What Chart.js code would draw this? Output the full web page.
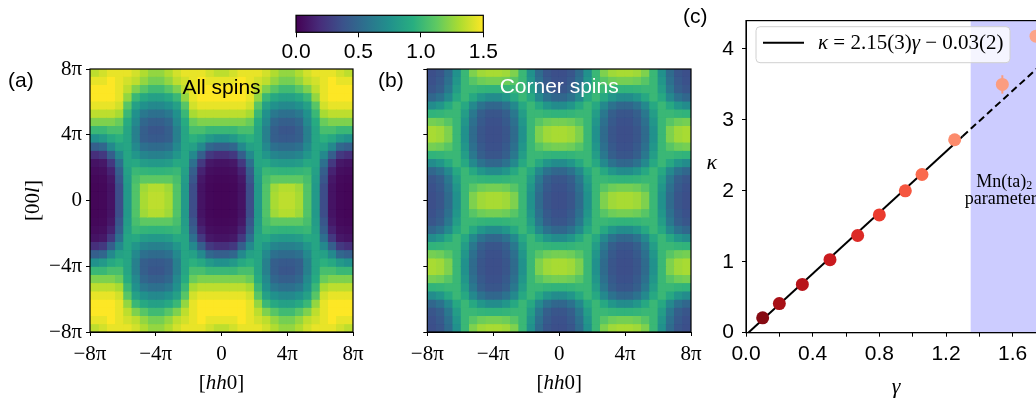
<!DOCTYPE html>
<html>
<head>
<meta charset="utf-8">
<script src="https://cdn.jsdelivr.net/npm/chart.js@4.4.0/dist/chart.umd.min.js"></script>
<style>
  html, body { margin: 0; padding: 0; background: #fff; overflow: hidden; }
  #page { position: relative; width: 1036px; height: 403px; overflow: hidden; }
  canvas { position: absolute; top: 0; }
</style>
</head>
<body>
<div id="page">
  <canvas id="allSpins" width="370" height="403" style="left:0"></canvas>
  <canvas id="cornerSpins" width="340" height="403" style="left:370px"></canvas>
  <canvas id="kappaChart" width="420" height="403" style="left:680px"></canvas>
  <canvas id="colorbar" width="240" height="70" style="left:270px"></canvas>
</div>
<script>
// ---- data ----
// heat maps: cell centres of one quadrant (units of pi), rows from top (l = 7.75pi) to bottom
const hhCentres = [0.25, 0.75, 1.25, 1.75, 2.25, 2.75, 3.25, 3.75, 4.25, 4.75, 5.25, 5.75, 6.25, 6.75, 7.25, 7.75];
const llCentres = [7.75, 7.25, 6.75, 6.25, 5.75, 5.25, 4.75, 4.25, 3.75, 3.25, 2.75, 2.25, 1.75, 1.25, 0.75, 0.25];

// (a) all spins, quadrant hh>0, l>0 (the map is mirrored in hh and l)
const allSpinsQuadrant = [
  [1.35,1.40,1.45,1.45,1.45,1.40,1.32,1.25,1.25,1.32,1.40,1.45,1.45,1.45,1.40,1.35],
  [1.45,1.45,1.50,1.45,1.40,1.35,1.25,1.18,1.18,1.25,1.35,1.40,1.45,1.50,1.45,1.45],
  [1.50,1.50,1.50,1.45,1.35,1.20,1.10,1.02,1.02,1.10,1.20,1.35,1.45,1.50,1.50,1.50],
  [1.50,1.50,1.50,1.45,1.25,1.00,0.90,0.85,0.85,0.90,1.00,1.25,1.45,1.50,1.50,1.50],
  [1.45,1.45,1.45,1.40,1.10,0.85,0.75,0.70,0.70,0.75,0.85,1.10,1.40,1.45,1.45,1.45],
  [1.35,1.35,1.35,1.30,1.00,0.75,0.60,0.55,0.55,0.60,0.75,1.00,1.30,1.35,1.35,1.35],
  [1.20,1.20,1.20,1.15,0.92,0.70,0.50,0.45,0.45,0.50,0.70,0.92,1.15,1.20,1.20,1.20],
  [1.00,1.00,1.05,1.05,0.88,0.65,0.45,0.40,0.40,0.45,0.65,0.88,1.05,1.05,1.00,1.00],
  [0.75,0.80,0.90,0.95,0.88,0.65,0.45,0.42,0.42,0.45,0.65,0.88,0.95,0.90,0.80,0.75],
  [0.45,0.50,0.70,0.85,0.88,0.70,0.55,0.52,0.52,0.55,0.70,0.88,0.85,0.70,0.50,0.45],
  [0.20,0.25,0.45,0.70,0.88,0.78,0.68,0.65,0.65,0.68,0.78,0.88,0.70,0.45,0.25,0.20],
  [0.08,0.10,0.25,0.55,0.88,0.90,0.82,0.80,0.80,0.82,0.90,0.88,0.55,0.25,0.10,0.08],
  [0.05,0.06,0.15,0.45,0.85,1.00,0.98,0.97,0.97,0.98,1.00,0.85,0.45,0.15,0.06,0.05],
  [0.03,0.04,0.10,0.40,0.82,1.05,1.12,1.12,1.12,1.12,1.05,0.82,0.40,0.10,0.04,0.03],
  [0.02,0.03,0.08,0.35,0.80,1.08,1.28,1.33,1.33,1.28,1.08,0.80,0.35,0.08,0.03,0.02],
  [0.02,0.03,0.08,0.35,0.80,1.08,1.30,1.35,1.35,1.30,1.08,0.80,0.35,0.08,0.03,0.02]
];

// (b) corner spins, same quadrant
const cornerSpinsQuadrant = [
  [0.36,0.40,0.52,0.75,1.00,1.20,1.28,1.30,1.30,1.28,1.20,1.00,0.75,0.52,0.40,0.36],
  [0.37,0.42,0.55,0.78,1.00,1.10,1.16,1.18,1.18,1.16,1.10,1.00,0.78,0.55,0.42,0.37],
  [0.40,0.45,0.60,0.83,1.00,1.00,0.98,0.97,0.97,0.98,1.00,1.00,0.83,0.60,0.45,0.40],
  [0.50,0.56,0.70,0.90,1.00,0.90,0.78,0.72,0.72,0.78,0.90,1.00,0.90,0.70,0.56,0.50],
  [0.72,0.78,0.90,1.00,0.90,0.70,0.56,0.50,0.50,0.56,0.70,0.90,1.00,0.90,0.78,0.72],
  [0.97,0.98,1.00,1.00,0.83,0.60,0.45,0.40,0.40,0.45,0.60,0.83,1.00,1.00,0.98,0.97],
  [1.18,1.16,1.10,1.00,0.78,0.55,0.42,0.37,0.37,0.42,0.55,0.78,1.00,1.10,1.16,1.18],
  [1.30,1.28,1.20,1.00,0.75,0.52,0.40,0.36,0.36,0.40,0.52,0.75,1.00,1.20,1.28,1.30],
  [1.30,1.28,1.20,1.00,0.75,0.52,0.40,0.36,0.36,0.40,0.52,0.75,1.00,1.20,1.28,1.30],
  [1.18,1.16,1.10,1.00,0.78,0.55,0.42,0.37,0.37,0.42,0.55,0.78,1.00,1.10,1.16,1.18],
  [0.97,0.98,1.00,1.00,0.83,0.60,0.45,0.40,0.40,0.45,0.60,0.83,1.00,1.00,0.98,0.97],
  [0.72,0.78,0.90,1.00,0.90,0.70,0.56,0.50,0.50,0.56,0.70,0.90,1.00,0.90,0.78,0.72],
  [0.50,0.56,0.70,0.90,1.00,0.90,0.78,0.72,0.72,0.78,0.90,1.00,0.90,0.70,0.56,0.50],
  [0.40,0.45,0.60,0.83,1.00,1.00,0.98,0.97,0.97,0.98,1.00,1.00,0.83,0.60,0.45,0.40],
  [0.37,0.42,0.55,0.78,1.00,1.10,1.16,1.18,1.18,1.16,1.10,1.00,0.78,0.55,0.42,0.37],
  [0.36,0.40,0.52,0.75,1.00,1.20,1.28,1.30,1.30,1.28,1.20,1.00,0.75,0.52,0.40,0.36]
];

const colorbarMax = 1.5;

// (c) kappa vs gamma
const gammaValues = [0.10, 0.20, 0.338, 0.504, 0.67, 0.80, 0.956, 1.056, 1.252, 1.538, 1.74];
const kappaValues = [0.21, 0.41, 0.68, 1.03, 1.37, 1.66, 2.00, 2.23, 2.72, 3.50, 4.18];
const kappaErrors = [0, 0, 0, 0, 0, 0, 0, 0, 0, 0.13, 0];
const fitGamma = [0, 1.30, 1.80];
const fitKappa = [-0.03, 2.77, 3.84];
const shadeFrom = 1.348;

const pointColours = ['#860a12', '#a81117', '#b8141a', '#ca1b1f', '#dc2a26', '#ea3b2e', '#f5563f', '#fa6b4e', '#fc8b6c', '#fb9d80', '#fca488'];

// ---- helpers ----
const viridisStops = [[68,1,84],[71,44,122],[59,82,139],[44,114,142],[33,145,140],[40,174,128],[94,201,98],[173,220,48],[253,231,37]];
function viridis(t) {
  t = Math.max(0, Math.min(1, t)) * (viridisStops.length - 1);
  const i = Math.min(viridisStops.length - 2, Math.floor(t));
  const f = t - i, a = viridisStops[i], b = viridisStops[i + 1];
  return 'rgb(' + a.map((c, k) => Math.round(c + (b[k] - c) * f)).join(',') + ')';
}

function piLabel(v) {
  if (v === 0) return '0';
  return (v < 0 ? '\u2212' : '') + Math.abs(v) + '\u03c0';
}

// draw text made of pieces in different fonts: [text, font, dy]
function drawRich(ctx, parts, x, y, align, rot, colour) {
  ctx.save();
  ctx.translate(x, y);
  if (rot) ctx.rotate(rot);
  ctx.fillStyle = colour || '#000';
  ctx.textBaseline = 'middle';
  ctx.textAlign = 'left';
  let w = 0;
  parts.forEach(p => { ctx.font = p[1]; w += ctx.measureText(p[0]).width; });
  let cx = align === 'center' ? -w / 2 : align === 'right' ? -w : 0;
  parts.forEach(p => {
    ctx.font = p[1];
    ctx.fillText(p[0], cx, p[2] || 0);
    cx += ctx.measureText(p[0]).width;
  });
  ctx.restore();
}

const SERIF = '"Liberation Serif", "DejaVu Serif", serif';
const SANS = '"Liberation Sans", Arial, sans-serif';

function buildCells(quadrant) {
  const cells = [], colours = [];
  [-1, 1].forEach(sy => {
    [-1, 1].forEach(sx => {
      quadrant.forEach((row, j) => {
        row.forEach((v, i) => {
          const yc = sy * llCentres[j];
          cells.push({ x: sx * hhCentres[i], y: [yc - 0.25, yc + 0.25] });
          colours.push(viridis(v / colorbarMax));
        });
      });
    });
  });
  return { cells, colours };
}

function piAxis(showLabels, fitSize, isX) {
  return {
    type: 'linear',
    min: -8,
    max: 8,
    offset: false,
    ticks: {
      stepSize: 4,
      display: showLabels,
      autoSkip: false,
      maxRotation: 0,
      color: '#000',
      padding: isX ? 6 : 4,
      font: { family: SERIF, size: 21 },
      callback: v => piLabel(v)
    },
    grid: { drawOnChartArea: false, drawTicks: true, tickLength: 4, color: '#000', offset: false },
    border: { display: true, color: '#000', width: 1 },
    afterFit: s => { if (isX) s.height = fitSize; else s.width = fitSize; }
  };
}

function heatmap(id, quadrant, yWidth, rightPad, texts) {
  const { cells, colours } = buildCells(quadrant);
  return new Chart(document.getElementById(id), {
    type: 'bar',
    data: {
      datasets: [{
        data: cells,
        backgroundColor: colours,
        borderColor: colours,
        borderWidth: 0.01,
        borderSkipped: false,
        inflateAmount: 0.5,
        base: -100, // keeps Chart.js from trimming cells that touch l = 0
        categoryPercentage: 1,
        barPercentage: 1
      }]
    },
    options: {
      responsive: false,
      animation: false,
      events: [],
      layout: { padding: { top: 69, right: rightPad, left: 0, bottom: 0 } },
      plugins: { legend: { display: false }, tooltip: { enabled: false } },
      scales: {
        x: piAxis(true, 71, true),
        y: piAxis(yWidth > 70, yWidth, false)
      }
    },
    plugins: [{
      id: 'frameAndText',
      afterDraw(chart) {
        const { ctx, chartArea: a } = chart;
        ctx.save();
        ctx.strokeStyle = '#000';
        ctx.lineWidth = 1.2;
        ctx.strokeRect(a.left, a.top, a.right - a.left, a.bottom - a.top);
        ctx.restore();
        texts(ctx, a);
      }
    }]
  });
}

// ---- (a) ----
heatmap('allSpins', allSpinsQuadrant, 90, 17, (ctx, a) => {
  const cx = (a.left + a.right) / 2;
  drawRich(ctx, [['(a)', '21px ' + SANS]], 8, 81, 'left');
  drawRich(ctx, [['All spins', '21px ' + SANS]], cx, 88, 'center');
  drawRich(ctx, [['[00', '21px ' + SERIF], ['l', 'italic 21px ' + SERIF], [']', '21px ' + SERIF]],
    33, (a.top + a.bottom) / 2, 'center', -Math.PI / 2);
  drawRich(ctx, [['[', '21px ' + SERIF], ['hh', 'italic 21px ' + SERIF], ['0]', '21px ' + SERIF]], cx, 383, 'center');
});

// ---- (b) ----
heatmap('cornerSpins', cornerSpinsQuadrant, 57.3, 19, (ctx, a) => {
  const cx = (a.left + a.right) / 2;
  drawRich(ctx, [['(b)', '21px ' + SANS]], 8, 81, 'left');
  drawRich(ctx, [['Corner spins', '21px ' + SANS]], cx, 87, 'center', 0, '#fff');
  drawRich(ctx, [['[', '21px ' + SERIF], ['hh', 'italic 21px ' + SERIF], ['0]', '21px ' + SERIF]], cx, 383, 'center');
});

// ---- colour bar ----
new Chart(document.getElementById('colorbar'), {
  type: 'scatter',
  data: { datasets: [] },
  options: {
    responsive: false,
    animation: false,
    events: [],
    layout: { padding: { top: 15.3, left: 26, right: 26.7, bottom: 0 } },
    plugins: { legend: { display: false }, tooltip: { enabled: false } },
    scales: {
      x: {
        type: 'linear',
        min: 0,
        max: colorbarMax,
        ticks: {
          stepSize: 0.5, autoSkip: false, maxRotation: 0, color: '#000', padding: 2,
          font: { family: SANS, size: 21 },
          callback: v => v.toFixed(1)
        },
        grid: { drawOnChartArea: false, tickLength: 5, color: '#000' },
        border: { display: false },
        afterFit: s => { s.height = 37.7; }
      },
      y: { display: false, min: 0, max: 1 }
    }
  },
  plugins: [{
    id: 'gradient',
    beforeDatasetsDraw(chart) {
      const { ctx, chartArea: a } = chart;
      const g = ctx.createLinearGradient(a.left, 0, a.right, 0);
      viridisStops.forEach((c, k) => g.addColorStop(k / (viridisStops.length - 1), 'rgb(' + c.join(',') + ')'));
      ctx.save();
      ctx.fillStyle = g;
      ctx.fillRect(a.left, a.top, a.right - a.left, a.bottom - a.top);
      ctx.strokeStyle = '#000';
      ctx.lineWidth = 1.2;
      ctx.strokeRect(a.left, a.top, a.right - a.left, a.bottom - a.top);
      ctx.restore();
    }
  }]
});

// ---- (c) ----
new Chart(document.getElementById('kappaChart'), {
  type: 'scatter',
  data: {
    datasets: [
      {
        label: 'simulations',
        data: gammaValues.map((g, i) => ({ x: g, y: kappaValues[i] })),
        pointBackgroundColor: pointColours,
        pointBorderWidth: 0,
        pointRadius: 6.5,
        order: 1
      },
      {
        label: 'fit',
        data: fitGamma.map((g, i) => ({ x: g, y: fitKappa[i] })),
        showLine: true,
        borderColor: '#000',
        borderWidth: 2,
        pointRadius: 0,
        segment: { borderDash: ctx => ctx.p0DataIndex >= 1 ? [7, 4] : undefined },
        order: 2
      }
    ]
  },
  options: {
    responsive: false,
    animation: false,
    events: [],
    layout: { padding: { top: 16, right: 54, left: 0, bottom: 0 } },
    plugins: { legend: { display: false }, tooltip: { enabled: false } },
    scales: {
      x: {
        type: 'linear',
        min: 0,
        max: 1.8,
        ticks: {
          stepSize: 0.2, autoSkip: false, maxRotation: 0, color: '#000', padding: 5,
          font: { family: SANS, size: 21 },
          callback: v => (Math.round(v * 10) % 4 === 0 ? v.toFixed(1) : '')
        },
        grid: { drawOnChartArea: false, tickLength: 4, color: '#000' },
        border: { display: true, color: '#000', width: 1 },
        afterFit: s => { s.height = 70.3; }
      },
      y: {
        type: 'linear',
        min: 0,
        max: 4.4,
        ticks: {
          stepSize: 1, includeBounds: false, autoSkip: false, color: '#000', padding: 8,
          font: { family: SANS, size: 21 },
          callback: v => String(v)
        },
        grid: { drawOnChartArea: false, tickLength: 4, color: '#000' },
        border: { display: true, color: '#000', width: 1 },
        afterFit: s => { s.width = 66; }
      }
    }
  },
  plugins: [{
    id: 'shadeErrorsLegend',
    beforeDatasetsDraw(chart) {
      const { ctx, chartArea: a, scales: { x, y } } = chart;
      ctx.save();
      const x0 = x.getPixelForValue(shadeFrom);
      ctx.fillStyle = 'rgba(0, 0, 255, 0.2)';
      ctx.fillRect(x0, a.top, a.right - x0, a.bottom - a.top);
      ctx.lineWidth = 2;
      kappaErrors.forEach((e, i) => {
        if (!e) return;
        const px = x.getPixelForValue(gammaValues[i]);
        ctx.strokeStyle = pointColours[i];
        ctx.beginPath();
        ctx.moveTo(px, y.getPixelForValue(kappaValues[i] - e));
        ctx.lineTo(px, y.getPixelForValue(kappaValues[i] + e));
        ctx.stroke();
      });
      ctx.restore();
      const mid = (x0 + a.right) / 2 - 4;
      drawRich(ctx, [['Mn(ta)', '18px ' + SERIF], ['2', '12px ' + SERIF, 4]], mid, 182, 'center');
      drawRich(ctx, [['parameters', '18px ' + SERIF]], mid, 199, 'center');
    },
    afterDraw(chart) {
      const { ctx, chartArea: a } = chart;
      ctx.save();
      ctx.strokeStyle = '#000';
      ctx.lineWidth = 1.2;
      ctx.strokeRect(a.left, a.top, a.right - a.left, a.bottom - a.top);
      // legend box
      ctx.beginPath();
      ctx.roundRect(76, 26.7, 254, 36, 4);
      ctx.fillStyle = 'rgba(255, 255, 255, 0.8)';
      ctx.fill();
      ctx.strokeStyle = '#d0d0d0';
      ctx.lineWidth = 1;
      ctx.stroke();
      ctx.beginPath();
      ctx.moveTo(83, 42.7);
      ctx.lineTo(124, 42.7);
      ctx.strokeStyle = '#000';
      ctx.lineWidth = 2;
      ctx.stroke();
      ctx.restore();
      const f = '21px ' + SERIF, fi = 'italic 21px ' + SERIF;
      drawRich(ctx, [['\u03ba', fi], [' = 2.15(3)', f], ['\u03b3', fi], [' \u2212 0.03(2)', f]], 138, 43, 'left');
      drawRich(ctx, [['(c)', '21px ' + SANS]], 3, 17, 'left');
      drawRich(ctx, [['\u03ba', 'italic 22px ' + SERIF]], 31.7, 163, 'center');
      drawRich(ctx, [['\u03b3', 'italic 22px ' + SERIF]], (a.left + a.right) / 2, 387, 'center');
    }
  }]
});
</script>
</body>
</html>
